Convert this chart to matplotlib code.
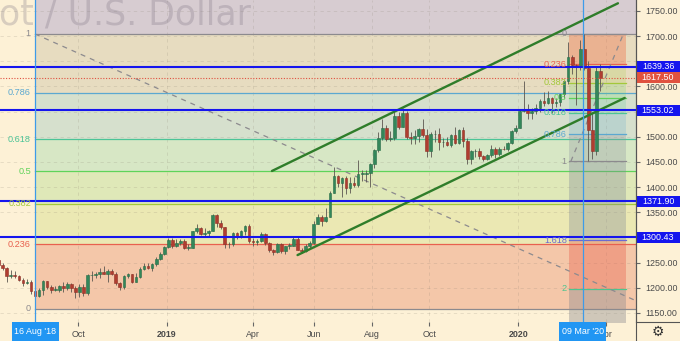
"""Gold spot / USD daily chart with two Fibonacci retracements, a rising
channel and horizontal support/resistance levels (TradingView look)."""

import numpy as np
import matplotlib
matplotlib.use("Agg")
import matplotlib.pyplot as plt
from matplotlib.lines import Line2D
from matplotlib.patches import Rectangle
from matplotlib.transforms import blended_transform_factory

# --- data -----------------------------------------------------------------
START = "2018-07-09"            # first business day of the series (bar 0)
BARS_PER_CANDLE = 3             # each candle aggregates 3 trading days
first_open = 1256.0

close = [
    1245, 1240, 1224, 1225, 1223,  1216, 1210, 1212, 1194, 1184,
    1195, 1213, 1201, 1196, 1196,  1203, 1200, 1208, 1200, 1192,
    1202, 1189, 1225, 1226, 1227,  1232, 1228, 1233, 1227, 1209,
    1201, 1223, 1227, 1212, 1222,  1237, 1244, 1240, 1248, 1257,
    1267, 1282, 1294, 1284, 1288,  1293, 1280, 1280, 1312, 1318,
    1306, 1308, 1313, 1344, 1328,  1320, 1286, 1286, 1309, 1302,
    1312, 1322, 1292, 1290, 1292,  1307, 1288, 1275, 1271, 1286,
    1273, 1283, 1284, 1297, 1276,  1273, 1284, 1288, 1326, 1341,
    1333, 1340, 1388, 1423, 1409,  1418, 1398, 1408, 1404, 1426,
    1426, 1427, 1445, 1474, 1497,  1517, 1496, 1498, 1542, 1520,
    1547, 1499, 1497, 1502, 1516,  1504, 1472, 1505, 1505, 1489,
    1490, 1484, 1504, 1488, 1514,  1491, 1456, 1471, 1472, 1462,
    1455, 1463, 1475, 1465, 1476,  1475, 1488, 1511, 1517, 1552,
    1556, 1548, 1552, 1558, 1571,  1567, 1577, 1566, 1568, 1584,
    1611, 1659, 1643, 1640, 1674,  1636, 1513, 1471, 1631, 1617.5,
]
high = [
    1262, 1249, 1242, 1235, 1233,  1226, 1219, 1218, 1215, 1197,
    1199, 1215, 1214, 1206, 1204,  1206, 1212, 1211, 1209, 1204,
    1208, 1207, 1227, 1233, 1231,  1240, 1243, 1237, 1237, 1232,
    1211, 1225, 1230, 1228, 1229,  1242, 1250, 1250, 1250, 1262,
    1271, 1284, 1298, 1298, 1296,  1296, 1297, 1286, 1313, 1326,
    1320, 1318, 1315, 1346, 1347,  1335, 1321, 1290, 1311, 1311,
    1315, 1324, 1326, 1299, 1296,  1310, 1309, 1290, 1278, 1288,
    1289, 1283, 1289, 1303, 1301,  1280, 1287, 1292, 1333, 1347,
    1345, 1358, 1393, 1439, 1424,  1421, 1422, 1420, 1420, 1453,
    1433, 1433, 1448, 1475, 1510,  1535, 1524, 1512, 1555, 1550,
    1557, 1552, 1510, 1514, 1518,  1535, 1516, 1509, 1513, 1517,
    1497, 1499, 1505, 1519, 1516,  1519, 1497, 1474, 1475, 1478,
    1464, 1466, 1484, 1480, 1480,  1481, 1489, 1513, 1524, 1553,
    1611, 1565, 1557, 1564, 1574,  1588, 1590, 1578, 1576, 1585,
    1612, 1689, 1662, 1645, 1692,  1703, 1650, 1547, 1640, 1645,
]
low = [
    1240, 1236, 1211, 1220, 1220,  1213, 1204, 1208, 1188, 1160,
    1182, 1185, 1198, 1190, 1193,  1192, 1191, 1196, 1192, 1180,
    1182, 1183, 1185, 1214, 1220,  1220, 1227, 1211, 1225, 1206,
    1196, 1198, 1220, 1210, 1211,  1220, 1235, 1237, 1234, 1243,
    1256, 1265, 1280, 1280, 1282,  1285, 1278, 1276, 1280, 1308,
    1304, 1302, 1303, 1312, 1320,  1316, 1280, 1280, 1284, 1296,
    1299, 1305, 1288, 1283, 1285,  1291, 1285, 1272, 1266, 1270,
    1270, 1267, 1278, 1283, 1275,  1269, 1272, 1278, 1287, 1326,
    1323, 1330, 1340, 1388, 1400,  1381, 1387, 1388, 1400, 1400,
    1412, 1411, 1400, 1437, 1470,  1494, 1492, 1492, 1494, 1515,
    1520, 1496, 1485, 1485, 1490,  1500, 1460, 1459, 1490, 1474,
    1480, 1482, 1480, 1485, 1485,  1480, 1446, 1445, 1460, 1456,
    1452, 1454, 1460, 1458, 1462,  1473, 1472, 1486, 1508, 1517,
    1550, 1536, 1536, 1546, 1550,  1562, 1565, 1548, 1560, 1562,
    1577, 1605, 1624, 1563, 1633,  1632, 1451, 1455, 1463, 1591,
]

# horizontal support / resistance levels and last price
hlines = [1639.36, 1553.02, 1371.90, 1300.43]
last_price = 1617.50

# big retracement: Aug-2018 low -> Mar-2020 high
fibA_date = "2018-08-16"
fibA_zero, fibA_one = 1158.0, 1704.0
fibA_levels = [0, 0.236, 0.382, 0.5, 0.618, 0.786, 1, 1.618]
fibA_labels = ["0", "0.236", "0.382", "0.5", "0.618", "0.786", "1", None]

# small retracement: Mar-2020 high -> Mar-2020 low
fibB_dates = ["2020-02-24", "2020-04-22"]
fibB_zero, fibB_one = 1704.0, 1451.0
fibB_levels = [0, 0.236, 0.382, 0.5, 0.618, 0.786, 1, 1.618, 2, 2.618]
fibB_labels = ["0", "0.236", "0.382", "0.5", "0.618", "0.786", "1", "1.618", "2", None]

# trend lines (date, price)
fibA_trend = (["2018-08-16", "2020-04-30"], [1704, 1176])
fibB_trend = (["2020-02-25", "2020-04-20"], [1451, 1704])
channel_upper = (["2019-04-19", "2020-04-14"], [1432, 1765])
channel_lower = (["2019-05-16", "2020-04-21"], [1265, 1577])

month_ticks = ["2018-10-01", "2019-01-01", "2019-04-01", "2019-06-03",
               "2019-08-01", "2019-10-01", "2020-01-01", "2020-04-01"]
month_labels = ["Oct", "2019", "Apr", "Jun", "Aug", "Oct", "2020", "Apr"]
marker_dates = ["2018-08-16", "2020-03-09"]
marker_labels = ["16 Aug '18", "09 Mar '20"]
price_ticks = list(range(1150, 1751, 50))
hidden_ticks = [1650, 1550, 1300]      # covered by the level labels

# --- style ----------------------------------------------------------------
BG = "#fdf1d6"
TXT = "#4a4a4a"
UP, DOWN, WICK = "#33875a", "#b03d30", "#5b5650"
LEVEL_BLUE = "#1515ee"
MARK_BLUE = "#2196f3"
FIB_COL = {0: "#8c8a8e", 0.236: "#e8614f", 0.382: "#a3c83a", 0.5: "#5fd35a",
           0.618: "#4cc497", 0.786: "#5ca8d0", 1: "#8c8a8e", 1.618: "#6b6bd0",
           2: "#4dc48f", 2.618: "#8c8a8e"}
FIBA_FILL = {0.236: "#f4c7a9", 0.382: "#ebe8b3", 0.5: "#dfe8b8", 0.618: "#d7e7c5",
             0.786: "#d6e0cd", 1: "#e7dcc0", 1.618: "#d7ccd1"}
FIBB_FILL = {0.236: ("#f0643c", 0.35), 0.382: ("#a3c83a", 0.2), 0.5: ("#5fd35a", 0.2),
             0.618: ("#4cc497", 0.2), 0.786: ("#5ca8d0", 0.22), 1: ("#8c93a0", 0.3),
             1.618: ("#7d8594", 0.33), 2: ("#e8614f", 0.38), 2.618: ("#8c8a8e", 0.4)}

plt.rcParams["font.family"] = ["Liberation Sans", "DejaVu Sans"]

W, H, DPI = 680, 341, 100
PLOT_W, PLOT_H = 636, 322
X_LEFT, X_RIGHT = 2.0, 474.4          # visible bar range
Y_LOW, Y_HIGH = 1132.1, 1771.5        # visible price range


def bar_of(date):
    return int(np.busday_count(START, date))


fig = plt.figure(figsize=(W / DPI, H / DPI), dpi=DPI)
fig.patch.set_facecolor(BG)
ax = fig.add_axes([0, (H - PLOT_H) / H, PLOT_W / W, PLOT_H / H])
ax.set_facecolor(BG)
ax.set_xlim(X_LEFT, X_RIGHT)
ax.set_ylim(Y_LOW, Y_HIGH)

# --- big fib bands + lines -------------------------------------------------
xa = bar_of(fibA_date)
fa = lambda lv: fibA_zero + lv * (fibA_one - fibA_zero)
for lo, hi in zip(fibA_levels[:-1], fibA_levels[1:]):
    ax.fill_between([xa, X_RIGHT], fa(lo), fa(hi), color=FIBA_FILL[hi], lw=0, zorder=0)
for lv, lab in zip(fibA_levels, fibA_labels):
    if lab is None:
        continue
    ax.plot([xa, X_RIGHT], [fa(lv)] * 2, color=FIB_COL[lv], lw=0.9, zorder=1)
    ax.text(xa - 3, fa(lv), lab, color=FIB_COL[lv], fontsize=6.6,
            ha="right", va="center", zorder=4)

# grid
for p in price_ticks:
    ax.axhline(p, color="#8a8070", alpha=0.22, lw=0.6, ls=(0, (4, 4)), zorder=0.5)
for d in month_ticks:
    ax.axvline(bar_of(d), color="#8a8070", alpha=0.22, lw=0.6, ls=(0, (4, 4)), zorder=0.5)

# --- small fib -------------------------------------------------------------
xb0, xb1 = bar_of(fibB_dates[0]), bar_of(fibB_dates[1])
fb = lambda lv: fibB_zero + lv * (fibB_one - fibB_zero)
for lo, hi in zip(fibB_levels[:-1], fibB_levels[1:]):
    col, al = FIBB_FILL[hi]
    ax.fill_between([xb0, xb1], fb(hi), fb(lo), color=col, alpha=al, lw=0, zorder=1)
for lv, lab in zip(fibB_levels, fibB_labels):
    if lab is None:
        continue
    ax.plot([xb0, xb1], [fb(lv)] * 2, color=FIB_COL[lv], lw=0.9, zorder=1.2)
    ax.text(xb0 - 2, fb(lv), lab, color=FIB_COL[lv], fontsize=6.6,
            ha="right", va="center", zorder=4)

# dashed fib trend lines
for dates, prices in (fibA_trend, fibB_trend):
    ax.plot([bar_of(d) for d in dates], prices, color="#8c8a8e", lw=0.9,
            ls=(0, (4, 4)), zorder=1.5)

# --- candles ---------------------------------------------------------------
close_a = np.array(close, float)
open_a = np.concatenate(([first_open], close_a[:-1]))
xc = np.arange(len(close_a)) * BARS_PER_CANDLE + 1
up = close_a >= open_a
ax.vlines(xc, low, high, color=WICK, lw=0.6, zorder=2)
body_lo = np.minimum(open_a, close_a)
body_h = np.maximum(np.abs(close_a - open_a), 1.2)
ax.bar(xc, body_h, bottom=body_lo, width=2.0,
       color=np.where(up, UP, DOWN), edgecolor=np.where(up, "#276b46", "#8c2f25"),
       lw=0.4, zorder=2.2)

# --- channel, levels, markers ---------------------------------------------
for dates, prices in (channel_upper, channel_lower):
    ax.plot([bar_of(d) for d in dates], prices, color="#2f7d2a", lw=1.7,
            solid_capstyle="round", zorder=3)

for p in hlines:
    ax.axhline(p, color=LEVEL_BLUE, lw=1.5, zorder=3.2)
ax.axhline(last_price, color="#e05040", lw=0.8, ls=(0, (1, 1.5)), zorder=3.1)

for d in marker_dates:
    ax.axvline(bar_of(d), color="#3d9be9", lw=0.9, zorder=3.3)

# watermark (symbol name, cut at the left edge like the original)
ax.text(251 / PLOT_W, 1 - 25 / PLOT_H, "Gold Spot / U.S. Dollar", transform=ax.transAxes,
        family="DejaVu Sans", fontsize=25, color="#7a7080", alpha=0.28,
        ha="right", va="baseline", zorder=0.8)

# --- axes ------------------------------------------------------------------
for s in ("left", "top", "bottom"):
    ax.spines[s].set_visible(False)
ax.spines["right"].set_color("#555555")
ax.spines["right"].set_linewidth(0.8)

ax.yaxis.tick_right()
ax.set_yticks(price_ticks)
ax.set_yticklabels(["" if p in hidden_ticks else f"{p:.2f}" for p in price_ticks])
ax.tick_params(axis="y", length=3, color="#666666", pad=4, labelsize=6.4, labelcolor=TXT)
ax.set_xticks([bar_of(d) for d in month_ticks])
ax.set_xticklabels(month_labels)
ax.tick_params(axis="x", length=3, color="#666666", pad=3, labelsize=6.4, labelcolor=TXT)
for lab in ax.get_xticklabels():
    if lab.get_text().isdigit():
        lab.set_fontweight("bold")

# price labels on the axis
ytrans = blended_transform_factory(ax.transAxes, ax.transData)
box_w = (W - PLOT_W) / PLOT_W
box_h = 11 * (Y_HIGH - Y_LOW) / PLOT_H
for p, col in [(h, LEVEL_BLUE) for h in hlines] + [(last_price, "#e0523f")]:
    ax.add_patch(Rectangle((1.0, p - box_h / 2), box_w, box_h, transform=ytrans,
                           facecolor=col, edgecolor="none", clip_on=False, zorder=5))
    ax.text(1.0 + box_w / 2, p, f"{p:.2f}", transform=ytrans, color="white",
            fontsize=6.4, ha="center", va="center", clip_on=False, zorder=6)

# date labels on the time axis
xtrans = blended_transform_factory(ax.transData, ax.transAxes)
lab_w = 47 * (X_RIGHT - X_LEFT) / PLOT_W
lab_h = (H - PLOT_H) / PLOT_H
for d, lab in zip(marker_dates, marker_labels):
    x = bar_of(d)
    ax.add_patch(Rectangle((x - lab_w / 2, -lab_h), lab_w, lab_h, transform=xtrans,
                           facecolor=MARK_BLUE, edgecolor="none", clip_on=False, zorder=5))
    ax.text(x, -lab_h / 2, lab, transform=xtrans, color="white", fontsize=6.4,
            ha="center", va="center", clip_on=False, zorder=6)

# frame of the bottom-right corner + gear
fig.add_artist(Line2D([PLOT_W / W] * 2, [0, 1], color="#555555", lw=0.8))
fig.add_artist(Line2D([PLOT_W / W, 1], [(H - PLOT_H) / H] * 2, color="#555555", lw=0.8))
fig.text((PLOT_W + 22) / W, 9.5 / H, "\u2699", family="DejaVu Sans", fontsize=10,
         color="#333333", ha="center", va="center")

fig.savefig("out.png", dpi=DPI, facecolor=BG)
